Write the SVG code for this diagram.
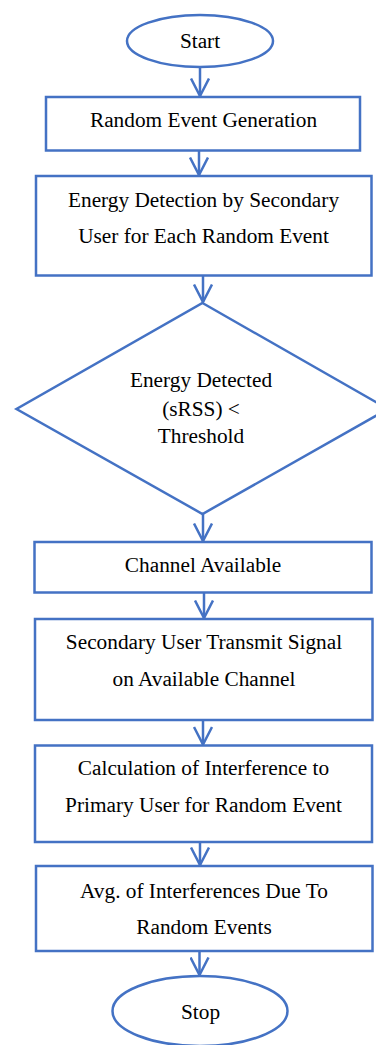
<svg xmlns="http://www.w3.org/2000/svg" width="376" height="1045" viewBox="0 0 376 1045">
<style>
.shape{fill:#ffffff;stroke:#4472C4;stroke-width:2.5}
.conn{fill:none;stroke:#4472C4;stroke-width:2.5}
.t{font-family:"Liberation Serif","Times New Roman",serif;font-size:21.3px;fill:#000000;text-anchor:middle}
</style>
<defs>
<marker id="arr" viewBox="0 0 20 20" refX="18.5" refY="10" markerWidth="20" markerHeight="20" markerUnits="userSpaceOnUse" orient="auto">
<path d="M 1,1 L 18.5,10 L 1,19" fill="none" stroke="#4472C4" stroke-width="2.5"/>
</marker>
</defs>
<rect width="376" height="1045" fill="#ffffff"/>
<g id="connectors">
<line class="conn" x1="200" y1="67" x2="200" y2="96" marker-end="url(#arr)"/>
<line class="conn" x1="199" y1="150.5" x2="199" y2="175" marker-end="url(#arr)"/>
<line class="conn" x1="203" y1="275.5" x2="203" y2="302" marker-end="url(#arr)"/>
<line class="conn" x1="203" y1="514" x2="203" y2="541" marker-end="url(#arr)"/>
<line class="conn" x1="204" y1="592.5" x2="204" y2="618" marker-end="url(#arr)"/>
<line class="conn" x1="203" y1="720" x2="203" y2="744.5" marker-end="url(#arr)"/>
<line class="conn" x1="200" y1="842" x2="200" y2="865" marker-end="url(#arr)"/>
<line class="conn" x1="199.5" y1="951" x2="199.5" y2="975" marker-end="url(#arr)"/>
</g>
<g id="start">
<ellipse class="shape" cx="200" cy="41" rx="73" ry="26"/>
<text class="t" x="200" y="48">Start</text>
</g>
<g id="random-event-generation">
<rect class="shape" x="46" y="97" width="314" height="53.5"/>
<text class="t" x="203.5" y="127">Random Event Generation</text>
</g>
<g id="energy-detection">
<rect class="shape" x="36" y="176" width="335.5" height="99.5"/>
<text class="t" x="203.5" y="207">Energy Detection by Secondary</text>
<text class="t" x="203.5" y="243">User for Each Random Event</text>
</g>
<g id="decision">
<polygon class="shape" points="202.5,303 388,409 202.5,514 16.5,409"/>
<text class="t" x="201" y="387">Energy Detected</text>
<text class="t" x="201" y="416">(sRSS) &lt;</text>
<text class="t" x="201" y="443">Threshold</text>
</g>
<g id="channel-available">
<rect class="shape" x="34.5" y="542" width="337" height="50.5"/>
<text class="t" x="203" y="572">Channel Available</text>
</g>
<g id="transmit">
<rect class="shape" x="35" y="619" width="337.5" height="101"/>
<text class="t" x="204" y="648.5">Secondary User Transmit Signal</text>
<text class="t" x="204" y="686">on Available Channel</text>
</g>
<g id="interference">
<rect class="shape" x="35" y="745.5" width="337" height="96.5"/>
<text class="t" x="203.5" y="775">Calculation of Interference to</text>
<text class="t" x="203.5" y="812">Primary User for Random Event</text>
</g>
<g id="average">
<rect class="shape" x="36" y="866" width="336.5" height="85"/>
<text class="t" x="204" y="897.5">Avg. of Interferences Due To</text>
<text class="t" x="204" y="933.5">Random Events</text>
</g>
<g id="stop">
<ellipse class="shape" cx="200" cy="1011" rx="87.5" ry="35"/>
<text class="t" x="200.5" y="1018.5">Stop</text>
</g>
</svg>
